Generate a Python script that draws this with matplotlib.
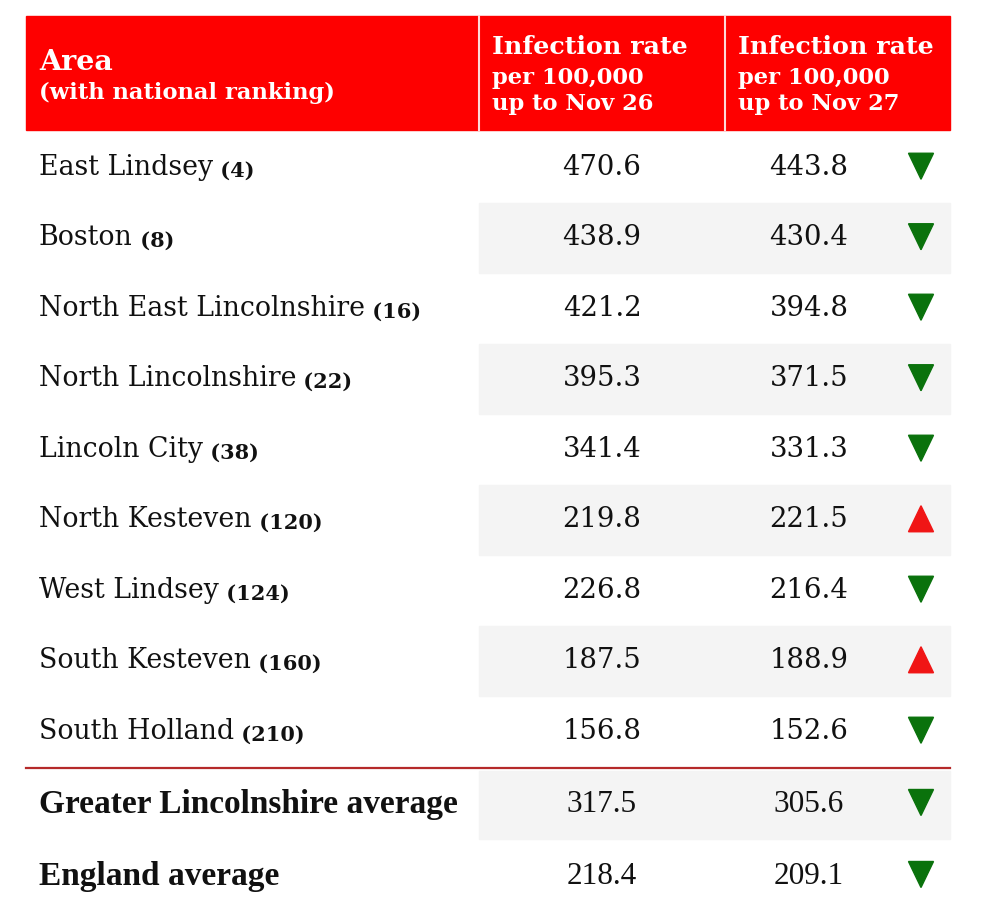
import matplotlib
matplotlib.use("Agg")
import matplotlib.pyplot as plt
from matplotlib.patches import Rectangle, Polygon

areas = ["East Lindsey", "Boston", "North East Lincolnshire", "North Lincolnshire",
         "Lincoln City", "North Kesteven", "West Lindsey", "South Kesteven", "South Holland"]
ranks = [4, 8, 16, 22, 38, 120, 124, 160, 210]
rate_nov26 = [470.6, 438.9, 421.2, 395.3, 341.4, 219.8, 226.8, 187.5, 156.8]
rate_nov27 = [443.8, 430.4, 394.8, 371.5, 331.3, 221.5, 216.4, 188.9, 152.6]

summary_labels = ["Greater Lincolnshire average", "England average"]
summary_nov26 = [317.5, 218.4]
summary_nov27 = [305.6, 209.1]

header_area = ["Area", "(with national ranking)"]
header_col1 = ["Infection rate", "per 100,000", "up to Nov 26"]
header_col2 = ["Infection rate", "per 100,000", "up to Nov 27"]

RED = "#fe0000"
GREEN = "#0a720c"
UP_RED = "#f01515"
STRIPE = "#f4f4f4"
SERIF = ["DejaVu Serif"]

W, H = 999, 914
fig = plt.figure(figsize=(W / 100, H / 100), dpi=100)
ax = fig.add_axes([0, 0, 1, 1])
ax.set_xlim(0, W)
ax.set_ylim(H, 0)
ax.axis("off")

left, right = 26, 950
col_div1, col_div2 = 479, 725
c1x, c2x, trix = 602, 809, 921

# header
ax.add_patch(Rectangle((left, 16), right - left, 114, color=RED, zorder=1))
for xd in (col_div1, col_div2):
    ax.plot([xd, xd], [16, 130], color="#ffd8d8", lw=1.5, zorder=2)
ax.text(39, 62, header_area[0], color="white", fontsize=20.5, fontweight="bold",
        family=SERIF, va="center", ha="left")
ax.text(39, 93, header_area[1], color="white", fontsize=16.3, fontweight="bold",
        family=SERIF, va="center", ha="left")
for x0, hdr in ((492, header_col1), (738, header_col2)):
    ax.text(x0, 47, hdr[0], color="white", fontsize=18.3, fontweight="bold",
            family=SERIF, va="center", ha="left")
    ax.text(x0, 78, hdr[1], color="white", fontsize=16.3, fontweight="bold",
            family=SERIF, va="center", ha="left")
    ax.text(x0, 104, hdr[2], color="white", fontsize=16.3, fontweight="bold",
            family=SERIF, va="center", ha="left")


def triangle(x, y, up):
    w, h = 12.5, 13
    if up:
        pts = [(x - w, y + h), (x + w, y + h), (x, y - h)]
        col = UP_RED
    else:
        pts = [(x - w, y - h), (x + w, y - h), (x, y + h)]
        col = GREEN
    ax.add_patch(Polygon(pts, closed=True, color=col, zorder=3))


row_top0, row_h = 132, 70.5
for i, (name, rk, a, b) in enumerate(zip(areas, ranks, rate_nov26, rate_nov27)):
    top = row_top0 + i * row_h
    yc = top + row_h / 2
    if i % 2 == 1:
        ax.add_patch(Rectangle((col_div1, top), right - col_div1, row_h, color=STRIPE, zorder=0))
    t = ax.text(39, yc, name, fontsize=19.3, family=SERIF, va="center", ha="left", color="#111111")
    ax.annotate(f" ({rk})", xy=(1, 0), xycoords=t, fontsize=15, fontweight="bold",
                family=SERIF, va="bottom", ha="left", color="#111111")
    ax.text(c1x, yc, f"{a:.1f}", fontsize=19.8, family=SERIF, va="center", ha="center", color="#111111")
    ax.text(c2x, yc, f"{b:.1f}", fontsize=19.8, family=SERIF, va="center", ha="center", color="#111111")
    triangle(trix, yc - 1, b > a)

sep_y = row_top0 + len(areas) * row_h + 1
ax.plot([left, right], [sep_y, sep_y], color="#b52a2a", lw=1.6, zorder=2)

sum_h = 68
for j, (lab, a, b) in enumerate(zip(summary_labels, summary_nov26, summary_nov27)):
    top = sep_y + 3 + j * (sum_h + 4)
    yc = top + sum_h / 2
    if j == 0:
        ax.add_patch(Rectangle((col_div1, top), right - col_div1, sum_h, color=STRIPE, zorder=0))
    ax.text(39, yc, lab, fontsize=24, fontweight="bold", family=["Liberation Serif"],
            va="center", ha="left", color="#111111")
    ax.text(c1x, yc, f"{a:.1f}", fontsize=22.5, family=["Liberation Serif"], va="center",
            ha="center", color="#111111")
    ax.text(c2x, yc, f"{b:.1f}", fontsize=22.5, family=["Liberation Serif"], va="center",
            ha="center", color="#111111")
    triangle(trix, yc - 2, b > a)

fig.savefig("out.png", dpi=100, facecolor="white")
